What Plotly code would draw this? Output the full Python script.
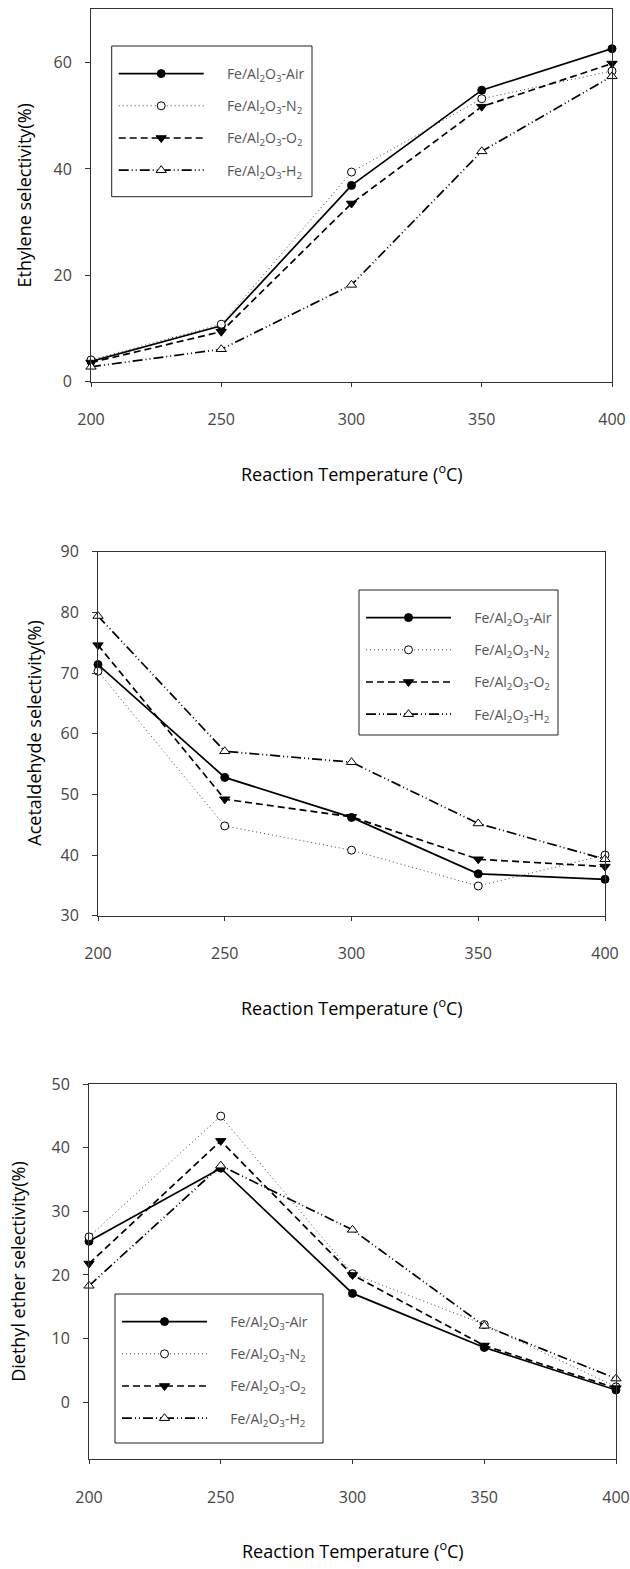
import plotly.graph_objects as go

temps = [200, 250, 300, 350, 400]
series_names = ["Fe/Al<sub>2</sub>O<sub>3</sub>-Air", "Fe/Al<sub>2</sub>O<sub>3</sub>-N<sub>2</sub>",
                "Fe/Al<sub>2</sub>O<sub>3</sub>-O<sub>2</sub>", "Fe/Al<sub>2</sub>O<sub>3</sub>-H<sub>2</sub>"]

ethylene_air = [3.8, 10.5, 36.9, 54.8, 62.6]
ethylene_n2 = [4.1, 10.8, 39.4, 53.2, 58.4]
ethylene_o2 = [3.6, 9.4, 33.5, 51.7, 59.8]
ethylene_h2 = [2.8, 6.1, 18.2, 43.3, 57.4]

acetaldehyde_air = [71.4, 52.8, 46.2, 36.9, 36.0]
acetaldehyde_n2 = [70.3, 44.8, 40.8, 34.9, 40.0]
acetaldehyde_o2 = [74.6, 49.2, 46.3, 39.3, 38.1]
acetaldehyde_h2 = [79.4, 57.1, 55.3, 45.2, 39.3]

ether_air = [25.3, 36.8, 17.1, 8.6, 1.9]
ether_n2 = [26.0, 45.0, 20.2, 12.2, 2.4]
ether_o2 = [21.8, 41.1, 20.0, 8.9, 2.2]
ether_h2 = [18.3, 37.2, 27.1, 12.0, 3.7]

y_titles = ["Ethylene selectivity(%)", "Acetaldehyde selectivity(%)", "Diethyl ether selectivity(%)"]
x_title = "Reaction Temperature (<sup>o</sup>C)"

W, H = 630, 1569
PAD = "\u00a0" * 5

styles = [
    dict(line=dict(color="black", width=1.7, dash="solid"),
         marker=dict(symbol="circle", size=8, color="black", line=dict(color="black", width=1))),
    dict(line=dict(color="#444", width=1, dash="1px,3px"),
         marker=dict(symbol="circle", size=8, color="white", line=dict(color="black", width=1))),
    dict(line=dict(color="black", width=1.7, dash="7px,4px"),
         marker=dict(symbol="triangle-down", size=9, color="black", line=dict(color="black", width=1))),
    dict(line=dict(color="black", width=1.7, dash="10px,3px,1px,3px,1px,3px"),
         marker=dict(symbol="triangle-up", size=9, color="white", line=dict(color="black", width=1))),
]

panels = [
    dict(data=[ethylene_air, ethylene_n2, ethylene_o2, ethylene_h2],
         px=(91, 612), py=(9.3, 381.7), yr=[0, 70], ydt=20,
         leg=(111.7, 46, 312, 196.7), ytx=23, xty=473),
    dict(data=[acetaldehyde_air, acetaldehyde_n2, acetaldehyde_o2, acetaldehyde_h2],
         px=(98, 605), py=(551.7, 915.7), yr=[30, 90], ydt=10,
         leg=(359, 590, 558, 735), ytx=34, xty=1006.7),
    dict(data=[ether_air, ether_n2, ether_o2, ether_h2],
         px=(89, 616), py=(1084.3, 1459.3), yr=[-9, 50], ydt=10,
         leg=(115, 1294, 323, 1443), ytx=18, xty=1550),
]

fig = go.Figure()
layout = dict(width=W, height=H, margin=dict(l=0, r=0, t=0, b=0, autoexpand=False),
              paper_bgcolor="white", plot_bgcolor="white", showlegend=True)
shapes = []
annotations = []

tickfont = dict(family="Open Sans", size=16, color="#444")
titlefont = dict(family="Open Sans", size=18, color="black")

for i, p in enumerate(panels):
    k = "" if i == 0 else str(i + 1)
    legname = "legend" + k
    for j, (vals, st) in enumerate(zip(p["data"], styles)):
        fig.add_trace(go.Scatter(
            x=temps, y=vals, name=PAD + series_names[j], mode="lines+markers",
            line=st["line"], marker=st["marker"],
            xaxis="x" + k, yaxis="y" + k, legend=legname,
            legendgroup=f"g{i}{j}", cliponaxis=False,
        ))
    x0, x1 = p["px"]
    y0, y1 = p["py"]
    layout["xaxis" + k] = dict(
        domain=[x0 / W, x1 / W], range=[200, 400], anchor="y" + k,
        tickvals=temps, ticks="outside", ticklen=4, tickcolor="#333",
        showline=True, linecolor="#333", linewidth=1, mirror=True,
        showgrid=False, zeroline=False, tickfont=tickfont, ticklabelstandoff=19,
        automargin=False,
    )
    layout["yaxis" + k] = dict(
        domain=[1 - y1 / H, 1 - y0 / H], range=p["yr"], anchor="x" + k,
        dtick=p["ydt"], tick0=0, ticks="outside", ticklen=5, tickcolor="#333",
        showline=True, linecolor="#333", linewidth=1, mirror=True,
        showgrid=False, zeroline=False, tickfont=tickfont, ticklabelstandoff=10,
        automargin=False,
    )
    lx0, ly0, lx1, ly1 = p["leg"]
    shapes.append(dict(type="rect", xref="paper", yref="paper",
                       x0=lx0 / W, x1=lx1 / W, y0=1 - ly1 / H, y1=1 - ly0 / H,
                       line=dict(color="#222", width=1), fillcolor="white", layer="below"))
    layout[legname] = dict(
        x=(lx0 + 2) / W, y=1 - (ly0 + 12) / H, xanchor="left", yanchor="top",
        bgcolor="rgba(0,0,0,0)", borderwidth=0, itemwidth=85, tracegroupgap=11,
        font=dict(family="Open Sans", size=14, color="#555"),
    )
    annotations.append(dict(text=x_title, xref="paper", yref="paper",
                            x=(x0 + x1) / 2 / W, y=1 - p["xty"] / H,
                            xanchor="center", yanchor="middle", showarrow=False,
                            font=titlefont))
    annotations.append(dict(text=y_titles[i], xref="paper", yref="paper",
                            x=p["ytx"] / W, y=1 - (y0 + y1) / 2 / H, textangle=-90,
                            xanchor="center", yanchor="middle", showarrow=False,
                            font=titlefont))

layout["shapes"] = shapes
layout["annotations"] = annotations
fig.update_layout(**layout)
fig.write_html("out.html", config={"displayModeBar": False},
               post_script="document.body.style.margin='0px';document.body.style.overflow='hidden';")
